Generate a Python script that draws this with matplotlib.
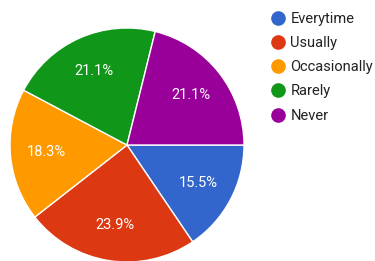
import matplotlib
matplotlib.use("Agg")
import matplotlib.pyplot as plt
from matplotlib.lines import Line2D

labels = ['Everytime', 'Usually', 'Occasionally', 'Rarely', 'Never']
values = [15.5, 23.9, 18.3, 21.1, 21.1]
colors = ['#3366cc', '#dc3912', '#ff9900', '#109618', '#990099']

plt.rcParams['font.family'] = ['Roboto', 'DejaVu Sans']

fig = plt.figure(figsize=(3.75, 2.61), dpi=100)
W, H = 375, 261
cx, cy, r = 127, 261 - 145, 117
ax = fig.add_axes([(cx - r) / W, (cy - r) / H, 2 * r / W, 2 * r / H])

wedges, texts, autotexts = ax.pie(values, colors=colors, startangle=0, counterclock=False,
                                  autopct='%1.1f%%', pctdistance=0.69,
                                  wedgeprops=dict(edgecolor='white', linewidth=1),
                                  textprops=dict(color='white', fontsize=10.5))
ax.set_xlim(-1, 1)
ax.set_ylim(-1, 1)
ax.set_aspect('equal')
ax.axis('off')

handles = [Line2D([], [], marker='o', ls='none', markersize=9.5, markerfacecolor=c,
                  markeredgecolor=c) for c in colors]
fig.legend(handles, labels, loc='upper left', bbox_to_anchor=(264 / W, 1 - 6 / H),
           frameon=False, fontsize=10.5, labelspacing=0.70, handletextpad=0.3,
           handlelength=1.1, borderaxespad=0, labelcolor='#222222')

fig.savefig('out.png', dpi=100)
